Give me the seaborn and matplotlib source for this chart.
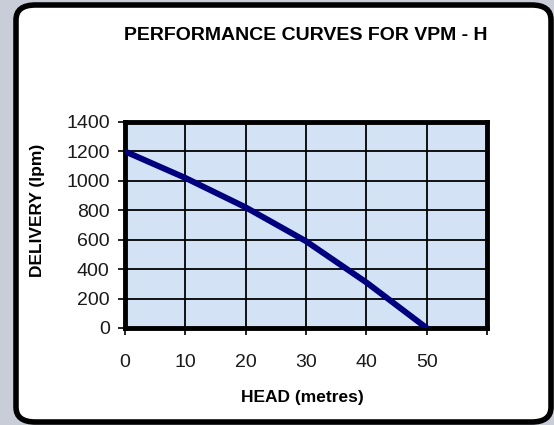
import matplotlib
matplotlib.use('Agg')
import matplotlib.pyplot as plt
import seaborn as sns
import pandas as pd
from matplotlib.patches import FancyBboxPatch

head = [0, 10, 20, 30, 40, 50]
delivery = [1200, 1020, 820, 590, 310, 0]
x_ticks = [0, 10, 20, 30, 40, 50, 60]
x_labels = ['0', '10', '20', '30', '40', '50', '']
y_ticks = [0, 200, 400, 600, 800, 1000, 1200, 1400]

df = pd.DataFrame({'HEAD': head, 'DELIVERY': delivery})

sns.set_style('white')
plt.rcParams['font.family'] = ['Liberation Sans', 'DejaVu Sans']
plt.rcParams['text.color'] = 'black'
plt.rcParams['axes.labelcolor'] = 'black'

fig = plt.figure(figsize=(5.54, 4.25), dpi=100)
fig.patch.set_facecolor('#c9cdd8')

# white rounded panel behind the chart
panel = FancyBboxPatch((16 / 554, 3 / 425), 535 / 554, 417 / 425,
                       boxstyle='round,pad=0,rounding_size=0.035',
                       transform=fig.transFigure, facecolor='white',
                       edgecolor='black', linewidth=4, zorder=-10)
fig.patches.append(panel)

ax = fig.add_axes([125 / 554, 1 - 328 / 425, 362 / 554, 206 / 425])
ax.set_facecolor('#d3e3f5')

sns.lineplot(data=df, x='HEAD', y='DELIVERY', color='#00007f', linewidth=4.3,
             ax=ax, zorder=5)

ax.set_xlim(0, 60)
ax.set_ylim(0, 1400)
ax.set_xticks(x_ticks)
ax.set_xticklabels(x_labels)
ax.set_yticks(y_ticks)
ax.grid(True, color='black', linewidth=1.3)
ax.set_axisbelow(True)

for s in ax.spines.values():
    s.set_visible(True)
    s.set_color('black')
    s.set_linewidth(3.5)

ax.tick_params(axis='both', direction='out', length=5, width=1.2, color='black',
               labelsize=14, labelcolor='#1a1a1a', pad=6, bottom=True, left=True)
ax.tick_params(axis='x', pad=14)

ax.set_xlabel('HEAD (metres)', fontsize=12.5, fontweight='bold')
ax.set_ylabel('DELIVERY (lpm)', fontsize=12.5, fontweight='bold')
ax.xaxis.label.set_va('center')
ax.yaxis.label.set_va('center')
ax.yaxis.label.set_ha('center')
ax.xaxis.set_label_coords(0.49, -0.335)
ax.yaxis.set_label_coords(-0.243, 0.573)
fig.text(306 / 554, 1 - 35 / 425, 'PERFORMANCE CURVES FOR VPM - H',
         ha='center', va='center', fontsize=14, fontweight='bold')

fig.savefig('out.png', dpi=100, facecolor=fig.get_facecolor())
